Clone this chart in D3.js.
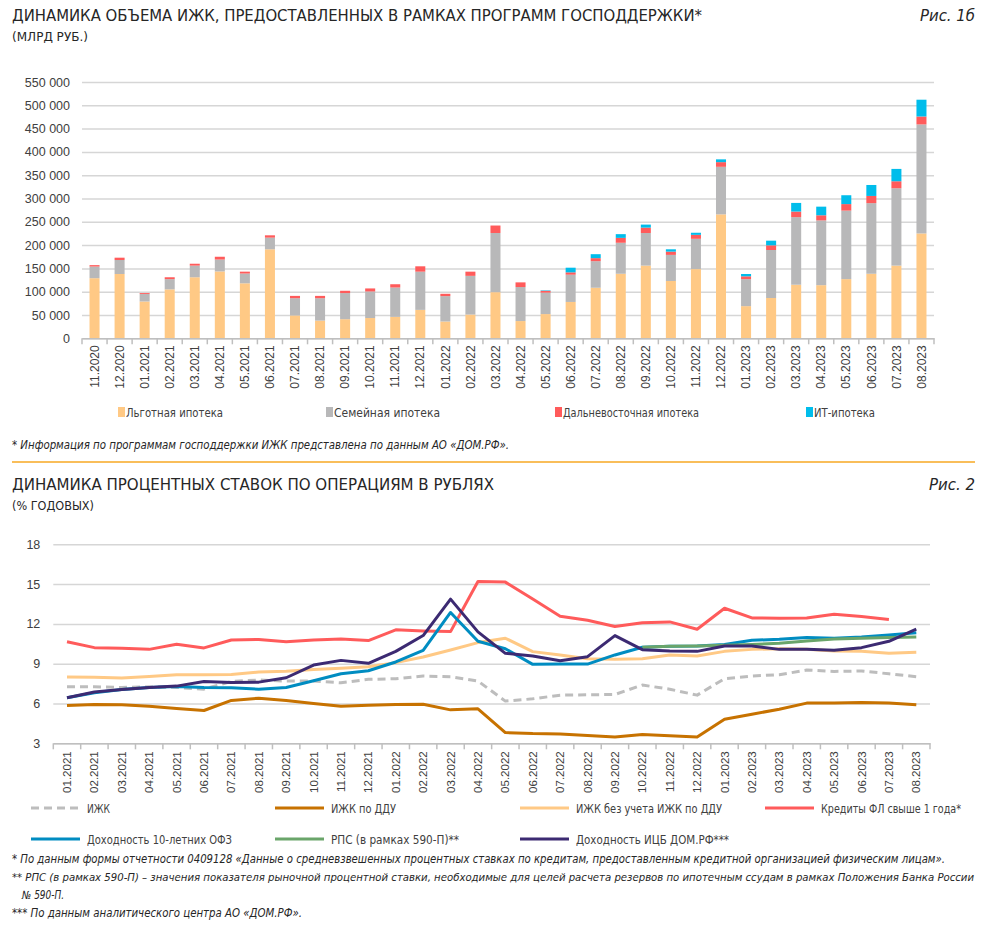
<!DOCTYPE html>
<html lang="ru">
<head>
<meta charset="utf-8">
<title>Динамика ИЖК и процентных ставок</title>
<script src="https://d3js.org/d3.v7.min.js"></script>
<style>
  body { margin: 0; background: #fff; }
  text { fill: #262626; }
  .narrow { font-family: "Liberation Sans Narrow", "DejaVu Sans Condensed", "Roboto", sans-serif; }
  .tick text { font-family: "Liberation Sans", Arial, sans-serif; fill: #404040; }
</style>
</head>
<body>
<div id="chart"></div>
<script>
// ---- data: chart 1 (volume of mortgages under state programs) ----
const months1 = ["11.2020","12.2020","01.2021","02.2021","03.2021","04.2021","05.2021","06.2021",
  "07.2021","08.2021","09.2021","10.2021","11.2021","12.2021","01.2022","02.2022","03.2022","04.2022",
  "05.2022","06.2022","07.2022","08.2022","09.2022","10.2022","11.2022","12.2022","01.2023","02.2023",
  "03.2023","04.2023","05.2023","06.2023","07.2023","08.2023"];
const lgotnaya = [129000,138000,79000,105000,131000,143500,118000,191000,49000,38000,41000,43500,46000,
  61000,36000,51000,99000,37000,52000,78000,108500,138500,156000,123000,148500,266000,69000,86500,
  115000,114000,127000,138500,156000,225000];
const semeynaya = [25000,30000,16000,22000,25000,25500,21000,25000,37000,48000,56000,57000,63000,82000,
  54500,83000,127000,73000,46000,58500,57000,66500,70000,56000,65000,102000,58000,103000,145000,139000,
  147000,151500,166000,234000];
const dalnevost = [3000,5000,2000,4000,4000,6000,4000,5000,5000,5000,5000,6500,7000,11500,5000,9000,
  16000,10000,4000,5000,6500,10500,11500,7000,8500,10000,6000,10000,12000,11000,14000,15500,15000,17000];
const itIpoteka = [0,0,0,0,0,0,0,0,0,0,0,0,0,0,0,0,0,0,1000,10000,8500,8000,6500,5000,4500,6000,5000,
  10000,18500,18500,19000,23500,26500,36000];
const seriesNames1 = ["Льготная ипотека","Семейная ипотека","Дальневосточная ипотека","ИТ-ипотека"];
const yTicks1 = [0,50000,100000,150000,200000,250000,300000,350000,400000,450000,500000,550000];

// ---- data: chart 2 (interest rates) ----
const months2 = ["01.2021","02.2021","03.2021","04.2021","05.2021","06.2021","07.2021","08.2021",
  "09.2021","10.2021","11.2021","12.2021","01.2022","02.2022","03.2022","04.2022","05.2022","06.2022",
  "07.2022","08.2022","09.2022","10.2022","11.2022","12.2022","01.2023","02.2023","03.2023","04.2023",
  "05.2023","06.2023","07.2023","08.2023"];
const izhk = [7.26,7.26,7.21,7.26,7.21,7.08,7.66,7.77,7.69,7.69,7.56,7.82,7.87,8.07,8.02,7.69,6.18,6.35,
  6.63,6.66,6.68,7.39,7.08,6.63,7.87,8.07,8.17,8.52,8.42,8.45,8.24,8.02];
const izhkDdu = [5.85,5.93,5.9,5.8,5.62,5.47,6.23,6.4,6.23,6.0,5.8,5.87,5.93,5.95,5.52,5.6,3.81,3.73,3.71,
  3.58,3.48,3.66,3.56,3.48,4.82,5.19,5.57,6.03,6.03,6.08,6.03,5.9];
const izhkBezDdu = [8.0,7.97,7.92,8.04,8.17,8.17,8.19,8.37,8.44,8.57,8.65,8.77,9.08,9.5,10.03,10.59,10.92,
  9.91,9.66,9.38,9.33,9.38,9.66,9.58,9.93,10.08,10.13,10.08,9.96,9.93,9.78,9.86];
const kredityFl = [10.66,10.21,10.16,10.08,10.46,10.19,10.79,10.82,10.66,10.79,10.87,10.74,11.55,11.47,
  11.42,15.2,15.15,13.87,12.58,12.28,11.8,12.08,12.15,11.6,13.18,12.45,12.43,12.45,12.73,12.55,12.33,null];
const ofz10 = [6.43,6.81,7.06,7.21,7.29,7.21,7.19,7.08,7.21,7.71,8.24,8.47,9.13,10.01,12.86,10.69,10.13,
  8.95,8.97,8.97,9.66,10.24,10.31,10.34,10.44,10.77,10.84,10.97,10.92,11.02,11.17,11.34];
const rps = [null,null,null,null,null,null,null,null,null,null,null,null,null,null,null,null,null,null,
  null,null,null,10.24,10.31,10.34,10.4,10.45,10.54,10.71,10.87,10.92,10.97,11.02];
const icb = [6.43,6.86,7.06,7.21,7.31,7.66,7.59,7.61,7.94,8.9,9.25,9.03,9.93,11.12,13.87,11.4,9.78,9.58,
  9.23,9.53,11.12,10.06,9.96,9.93,10.34,10.34,10.08,10.08,10.01,10.21,10.69,11.6];
const yTicks2 = [3,6,9,12,15,18];

const W = 989, H = 931;
const svg = d3.select("#chart").append("svg").attr("width", W).attr("height", H);

// helper for narrow text (titles, legends, notes)
function label(x, y, txt, size, opts = {}) {
  const t = svg.append("text").attr("class", "narrow")
    .attr("x", x).attr("y", y).attr("font-size", size).text(txt);
  if (opts.italic) t.attr("font-style", "italic");
  if (opts.anchor) t.attr("text-anchor", opts.anchor);
  if (opts.len) t.attr("textLength", opts.len).attr("lengthAdjust", "spacingAndGlyphs");
  if (opts.fill) t.style("fill", opts.fill);
  return t;
}

// ================= chart 1 =================
label(12, 21, "ДИНАМИКА ОБЪЕМА ИЖК, ПРЕДОСТАВЛЕННЫХ В РАМКАХ ПРОГРАММ ГОСПОДДЕРЖКИ*", 16, { len: 690 });
label(975, 21, "Рис. 1б", 16, { italic: true, anchor: "end", len: 55 });
label(12, 41, "(МЛРД РУБ.)", 12.5, { len: 76 });

const colors1 = ["#FFC985", "#B8B8B9", "#FF5B5B", "#00BDEB"];
const x1 = d3.scaleBand().domain(months1).range([82, 934]).paddingInner(0.6).paddingOuter(0.3);
const y1 = d3.scaleLinear().domain([0, 550000]).range([338.3, 82]);

svg.append("g").attr("transform", "translate(82,0)")
  .call(d3.axisLeft(y1).tickValues(yTicks1).tickSize(-852).tickPadding(12)
    .tickFormat(d => d3.format(",")(d).replace(/,/g, " ")))
  .call(g => g.select(".domain").remove())
  .call(g => g.selectAll(".tick line").attr("stroke", "#D6D6D6").attr("stroke-width", 1.5))
  .call(g => g.selectAll(".tick text").attr("font-size", 12.5));

const table1 = months1.map((m, i) => ({ m, a: lgotnaya[i], b: semeynaya[i], c: dalnevost[i], d: itIpoteka[i] }));
const stack1 = d3.stack().keys(["a", "b", "c", "d"])(table1);

svg.append("g").selectAll("g").data(stack1).join("g")
  .attr("fill", (d, i) => colors1[i])
  .selectAll("rect").data(d => d).join("rect")
  .attr("x", d => x1(d.data.m))
  .attr("y", d => y1(d[1]))
  .attr("width", x1.bandwidth())
  .attr("height", d => y1(d[0]) - y1(d[1]));

// x axis 1
const xAx1 = svg.append("g").attr("transform", "translate(0,338.3)")
  .call(d3.axisBottom(x1).tickSize(0).tickPadding(0))
  .call(g => g.select(".domain").attr("stroke", "#BFBFBF").attr("stroke-width", 1.5));
xAx1.selectAll(".tick text").attr("font-size", 12)
  .attr("transform", "rotate(-90)").attr("text-anchor", "end")
  .attr("x", -7).attr("y", 0).attr("dy", "0.35em");
const step1 = x1.step();
xAx1.selectAll(".bnd").data(months1.concat(["end"])).join("line")
  .attr("x1", (d, i) => 82 + i * step1).attr("x2", (d, i) => 82 + i * step1)
  .attr("y1", 0).attr("y2", 6).attr("stroke", "#BFBFBF").attr("stroke-width", 1.5);

// legend 1
const leg1X = [118, 326, 555, 806];
const leg1Len = [97, 106, 136, 61];
seriesNames1.forEach((n, i) => {
  svg.append("rect").attr("x", leg1X[i]).attr("y", 407).attr("width", 7).attr("height", 10).attr("fill", colors1[i]);
  label(leg1X[i] + 8, 417, n, 12.5, { fill: "#404040", len: leg1Len[i] });
});

label(12, 449, "* Информация по программам господдержки ИЖК представлена по данным АО «ДОМ.РФ».", 11.5,
  { italic: true, len: 497 });
svg.append("line").attr("x1", 12).attr("x2", 975).attr("y1", 462).attr("y2", 462)
  .attr("stroke", "#F7A823").attr("stroke-width", 1.5);

// ================= chart 2 =================
label(12, 490, "ДИНАМИКА ПРОЦЕНТНЫХ СТАВОК ПО ОПЕРАЦИЯМ В РУБЛЯХ", 16, { len: 482 });
label(975, 490, "Рис. 2", 16, { italic: true, anchor: "end", len: 46 });
label(12, 510, "(% ГОДОВЫХ)", 12.5, { len: 82 });

const x2 = d3.scaleBand().domain(months2).range([53.3, 930]);
const y2 = d3.scaleLinear().domain([3, 18]).range([743.3, 544.3]);

svg.append("g").attr("transform", "translate(53.3,0)")
  .call(d3.axisLeft(y2).tickValues(yTicks2).tickSize(-876.7).tickPadding(13))
  .call(g => g.select(".domain").remove())
  .call(g => g.selectAll(".tick line").attr("stroke", "#D6D6D6").attr("stroke-width", 1.5))
  .call(g => g.selectAll(".tick text").attr("font-size", 12.5));

const xAx2 = svg.append("g").attr("transform", "translate(0,743.3)")
  .call(d3.axisBottom(x2).tickSize(0).tickPadding(0))
  .call(g => g.select(".domain").attr("stroke", "#BFBFBF").attr("stroke-width", 1.5));
xAx2.selectAll(".tick text").attr("font-size", 11.5)
  .attr("transform", "rotate(-90)").attr("text-anchor", "end")
  .attr("x", -8).attr("y", 0).attr("dy", "0.35em");
const step2 = x2.step();
xAx2.selectAll(".bnd").data(months2.concat(["end"])).join("line")
  .attr("x1", (d, i) => 53.3 + i * step2).attr("x2", (d, i) => 53.3 + i * step2)
  .attr("y1", 0).attr("y2", 6).attr("stroke", "#BFBFBF").attr("stroke-width", 1.5);

const lines2 = [
  { name: "ИЖК", vals: izhk, color: "#BDBDBD", dash: "8,5", len: 23 },
  { name: "ИЖК по ДДУ", vals: izhkDdu, color: "#C77200", len: 65 },
  { name: "ИЖК без учета ИЖК по ДДУ", vals: izhkBezDdu, color: "#FFC985", len: 146 },
  { name: "Кредиты ФЛ свыше 1 года*", vals: kredityFl, color: "#FF5B5B", len: 140 },
  { name: "Доходность 10-летних ОФЗ", vals: ofz10, color: "#008CC1", len: 145 },
  { name: "РПС (в рамках 590-П)**", vals: rps, color: "#6AA56A", len: 128 },
  { name: "Доходность ИЦБ ДОМ.РФ***", vals: icb, color: "#3C2A72", len: 153 }
];

const line2 = d3.line()
  .defined(d => d.v !== null)
  .x(d => x2(d.m) + x2.bandwidth() / 2)
  .y(d => y2(d.v));

svg.append("g").selectAll("path").data(lines2).join("path")
  .attr("d", s => line2(months2.map((m, i) => ({ m, v: s.vals[i] }))))
  .attr("fill", "none")
  .attr("stroke", s => s.color)
  .attr("stroke-width", 3)
  .attr("stroke-dasharray", s => s.dash || null)
  .attr("stroke-linejoin", "round");

// legend 2
const leg2Pos = [[31, 808], [275, 808], [520, 808], [765, 808], [31, 839], [275, 839], [520, 839]];
lines2.forEach((s, i) => {
  const [lx, ly] = leg2Pos[i];
  svg.append("line").attr("x1", lx).attr("x2", lx + 49).attr("y1", ly).attr("y2", ly)
    .attr("stroke", s.color).attr("stroke-width", 3).attr("stroke-dasharray", s.dash || null);
  label(lx + 56, ly + 4.5, s.name, 12.5, { fill: "#404040", len: s.len });
});

// footnotes
label(12, 863, "* По данным формы отчетности 0409128 «Данные о средневзвешенных процентных ставках по кредитам, предоставленным кредитной организацией физическим лицам».", 11.5, { italic: true, len: 933 });
label(12, 881, "** РПС (в рамках 590-П) – значения показателя рыночной процентной ставки, необходимые для целей расчета резервов по ипотечным ссудам в рамках Положения Банка России", 10.6, { italic: true, len: 962 });
label(22, 899, "№ 590-П.", 11.5, { italic: true, len: 42 });
label(12, 917, "*** По данным аналитического центра АО «ДОМ.РФ».", 11.5, { italic: true, len: 290 });
</script>
</body>
</html>
